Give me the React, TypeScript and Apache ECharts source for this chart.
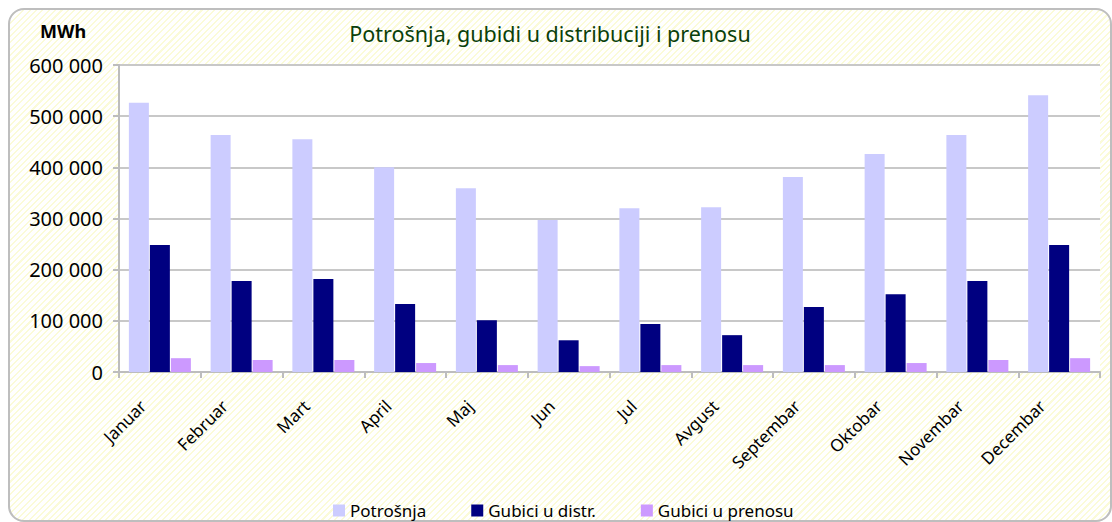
import React, { useEffect, useRef } from "react";
import * as echarts from "echarts";

const months = ["Januar", "Februar", "Mart", "April", "Maj", "Jun", "Jul", "Avgust", "Septembar", "Oktobar", "Novembar", "Decembar"];
const potrosnja = [526000, 463000, 455000, 400000, 359000, 297000, 320000, 322000, 381000, 426000, 463000, 541000];
const gubiciDistr = [248000, 178000, 182000, 133000, 101000, 62000, 94000, 72000, 127000, 152000, 178000, 248000];
const gubiciPrenos = [27000, 23500, 23500, 17500, 13500, 11500, 13500, 13500, 13500, 17500, 23500, 27000];
const seriesNames = ["Potrošnja", "Gubici u distr.", "Gubici u prenosu"];
const colors = ["#CCCCFF", "#000080", "#CC99FF"];

const fmt = (v: number) => {
  const s = String(Math.round(v));
  return s.replace(/\B(?=(\d{3})+(?!\d))/g, " ");
};

export default function App() {
  const ref = useRef<HTMLDivElement>(null);
  useEffect(() => {
    if (!ref.current) return;
    const chart = echarts.init(ref.current, null, { renderer: "svg" });
    const font = "Noto Sans";
    chart.setOption({
      animation: false,
      backgroundColor: "transparent",
      title: {
        text: "Potrošnja, gubidi u distribuciji i prenosu",
        left: 545,
        textAlign: "center",
        top: 17,
        textStyle: { color: "#0A400A", fontFamily: font, fontSize: 21.5, fontWeight: "normal" },
      },
      graphic: [
        {
          type: "text",
          left: 40,
          top: 22,
          style: { text: "MWh", fontFamily: font, fontSize: 18, fontWeight: "bold", fill: "#000" },
        },
      ],
      legend: {
        left: 328,
        top: 497,
        itemWidth: 12,
        itemHeight: 12,
        itemGap: 45,
        icon: "rect",
        textStyle: { fontFamily: font, fontSize: 17, color: "#000" },
        data: seriesNames,
      },
      grid: {
        left: 119,
        right: 12,
        top: 65,
        bottom: 150,
        show: true,
        backgroundColor: "#ffffff",
        borderWidth: 0,
      },
      xAxis: {
        type: "category",
        data: months,
        boundaryGap: true,
        axisLine: { lineStyle: { color: "#BDBDBD", width: 2 } },
        axisTick: { show: true, alignWithLabel: false, length: 6, lineStyle: { color: "#BDBDBD", width: 2 } },
        axisLabel: {
          rotate: 45,
          fontFamily: font,
          fontSize: 17,
          color: "#000",
          margin: 14,
          interval: 0,
          padding: [0, 24, 0, 0],
        },
      },
      yAxis: {
        type: "value",
        min: 0,
        max: 600000,
        interval: 100000,
        axisLine: { show: true, lineStyle: { color: "#BDBDBD", width: 2 } },
        axisTick: { show: true, length: 6, lineStyle: { color: "#BDBDBD", width: 2 } },
        splitLine: { lineStyle: { color: "#C8C8C8", width: 2 } },
        axisLabel: { fontFamily: font, fontSize: 20, color: "#000", margin: 16, formatter: (v: number) => fmt(v) },
      },
      series: [
        { name: seriesNames[0], type: "bar", data: potrosnja, itemStyle: { color: colors[0] }, barWidth: 20, barGap: "5%" },
        { name: seriesNames[1], type: "bar", data: gubiciDistr, itemStyle: { color: colors[1] }, barWidth: 20, barGap: "5%" },
        { name: seriesNames[2], type: "bar", data: gubiciPrenos, itemStyle: { color: colors[2] }, barWidth: 20, barGap: "5%" },
      ],
    });
    return () => chart.dispose();
  }, []);
  return (
    <div style={{ position: "absolute", left: 0, top: 0, width: 1112, height: 522, overflow: "hidden", background: "#fff" }}>
      <div
        style={{
          position: "absolute",
          left: 8,
          top: 8,
          width: 1104,
          height: 514,
          boxSizing: "border-box",
          border: "2px solid #BEBEBE",
          borderRadius: 16,
          background: "repeating-linear-gradient(135deg, #FBFBD8 0px, #FBFBD8 1.5px, #FFFFFF 1.5px, #FFFFFF 4.5px)",
        }}
      />
      <div ref={ref} style={{ position: "absolute", left: 0, top: 0, width: 1112, height: 522 }} />
    </div>
  );
}
